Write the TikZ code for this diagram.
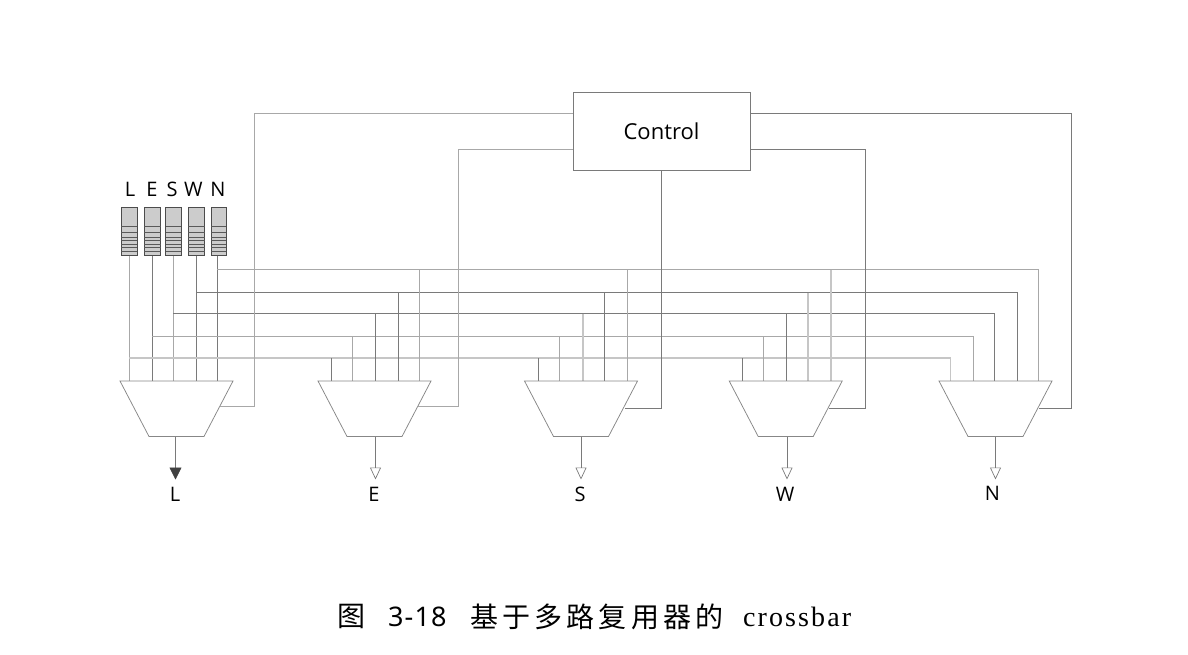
\documentclass[tikz,border=0pt]{standalone}
\usepackage{fontspec}
\usetikzlibrary{arrows.meta}
\setmainfont{Open Sans}
\newfontfamily\cjk[LetterSpace=15]{Noto Sans CJK SC}
\newfontfamily\capnum[LetterSpace=4]{Noto Sans}
\newfontfamily\caplat[LetterSpace=7.5]{Liberation Serif}
\definecolor{wirec}{gray}{0.48}
\definecolor{lightwire}{gray}{0.66}
\definecolor{qfill}{gray}{0.80}
\tikzset{
  x=1pt,y=-1pt,
  wire/.style={draw=wirec,line width=0.75pt},
  lwire/.style={draw=lightwire,line width=0.8pt},
  paleW/.style={draw=gray!45,line width=1.2pt},
  muxanchor/.style={minimum width=113pt,minimum height=55.5pt,inner sep=0pt,outer sep=0pt},
  muxline/.style={draw=lightwire!80!black,line width=0.75pt,fill=white},
  qbox/.style={draw=black!70,line width=0.8pt,fill=qfill,minimum height=48.4pt,inner sep=0pt,outer sep=0pt,anchor=north},
  ctrl/.style={draw=wirec,line width=0.75pt,fill=white,minimum width=177pt,minimum height=78pt,inner sep=0pt,outer sep=0pt,font=\fontsize{22}{24}\selectfont},
  lab/.style={font=\fontsize{20}{22}\selectfont,inner sep=0pt},
  tipopen/.style={-{Triangle[open,length=12pt,width=11pt,line width=0.7pt]}},
  tipfull/.style={-{Triangle[length=12pt,width=12pt,fill=black!75,color=black!75]}},
}
\begin{document}
\begin{tikzpicture}
\useasboundingbox (0,0) rectangle (1188,654);
% control
\node[ctrl] (ctl) at (661.5,131) {Control};
% queues
\foreach \n/\cx/\w in {L/129.3/16,E/152.3/16.5,S/173.3/15.5,W/196.3/16.5,N/218.5/15}{
  \node[qbox,minimum width=\w pt] (q\n) at (\cx,207.4) {};
  \foreach \yy in {226.7,232.3,237,240.7,244,247.3,251.3}{
    \draw[draw=black!65,line width=0.7pt] (q\n.west |- 0,\yy) -- (q\n.east |- 0,\yy);
  }
}
% queue labels
\node[lab] (tL) at (130,189) {L};
\node[lab] (tE) at (152,189) {E};
\node[lab] (tS) at (172,189) {S};
\node[lab] (tW) at (193.5,189) {W};
\node[lab] (tN) at (218,189) {N};
% ports on top of each mux
\foreach \m/\a/\b/\c/\d/\e in {L/129.3/152.3/173.3/196.3/217.3,E/331/352.5/375.5/398/419.5,S/538.5/559.5/583/604/627.5,W/742.5/763.5/786.5/808/831,N/950.5/973.5/994.5/1017.5/1038.5}{
  \coordinate (p\m L) at (\a,381);
  \coordinate (p\m E) at (\b,381);
  \coordinate (p\m S) at (\c,381);
  \coordinate (p\m W) at (\d,381);
  \coordinate (p\m N) at (\e,381);
}
% input buses
\draw[lwire] (qL.south) -- (pLL);
\draw[wire] (qE.south) -- (pLE);
\draw[lwire] (qS.south) -- (pLS);
\draw[wire] (qW.south) -- (pLW);
\draw[wire] (qN.south -| pLN) -- (pLN);
\draw[paleW] (pLL |- 0,358) -- (pNL |- 0,358) -- (pNL);
\draw[lwire] (pLE |- 0,336.5) -- (pNE |- 0,336.5) -- (pNE);
\draw[wire] (pLS |- 0,313.5) -- (pNS |- 0,313.5) -- (pNS);
\draw[wire] (pLW |- 0,292.5) -- (pNW |- 0,292.5) -- (pNW);
\draw[lwire] (pLN |- 0,269.5) -- (pNN |- 0,269.5) -- (pNN);
\foreach \m in {E,S,W}{
  \draw[wire] (p\m L |- 0,358) -- (p\m L);
  \draw[lwire] (p\m E |- 0,336.5) -- (p\m E);
  \draw[wire] (p\m S |- 0,313.5) -- (p\m S);
  \draw[wire] (p\m W |- 0,292.5) -- (p\m W);
  \draw[lwire] (p\m N |- 0,269.5) -- (p\m N);
}
\draw[paleW] (pSS |- 0,313.5) -- (pSS);
\draw[paleW] (pWW |- 0,292.5) -- (pWW);
\draw[paleW] (pWN |- 0,269.5) -- (pWN);
% muxes
\foreach \m/\cx in {L/176.5,E/374.5,S/581,W/785.7,N/995.5}{
  \node[muxanchor] (m\m) at (\cx,408.75) {};
  \draw[muxline] (m\m.north west) -- (m\m.north east) -- ([xshift=-29pt]m\m.south east) -- ([xshift=29pt]m\m.south west) -- cycle;
}
% control wires
\coordinate (cL) at (254.5,113);
\coordinate (cE) at (458,149);
\coordinate (cW) at (865,149);
\coordinate (cN) at (1071.5,113);
\coordinate (eL) at (220,406);
\coordinate (eE) at (418,406);
\coordinate (eS) at (624.5,408);
\coordinate (eW) at (829,408);
\coordinate (eN) at (1039,408);
\draw[lwire] (ctl.west |- cL) -- (cL) |- (eL);
\draw[lwire] (ctl.west |- cE) -- (cE) |- (eE);
\draw[wire] (ctl.south) -- (ctl.south |- eS) -- (eS);
\draw[wire] (ctl.east |- cW) -- (cW) |- (eW);
\draw[wire] (ctl.east |- cN) -- (cN) |- (eN);
% outputs
\coordinate (oL) at (175.5,479.5);
\coordinate (oE) at (375.5,479.5);
\coordinate (oS) at (581,479.5);
\coordinate (oW) at (787,479.5);
\coordinate (oN) at (995.5,479.5);
\draw[wire,tipfull] (mL.south -| oL) -- (oL);
\draw[wire,tipopen] (mE.south -| oE) -- (oE);
\draw[wire,tipopen] (mS.south -| oS) -- (oS);
\draw[wire,tipopen] (mW.south -| oW) -- (oW);
\draw[wire,tipopen] (mN.south -| oN) -- (oN);
\node[lab] (bL) at (175,494.5) {L};
\node[lab] (bE) at (374,494.5) {E};
\node[lab] (bS) at (580,494.5) {S};
\node[lab] (bW) at (785,494.5) {W};
\node[lab] (bN) at (992.5,493.5) {N};
% caption
\node[inner sep=0pt,anchor=west] (c1) at (337,616.5) {\fontsize{28}{30}\selectfont\cjk 图};
\node[inner sep=0pt,anchor=west] (c2) at (388,616.5) {\fontsize{27}{30}\selectfont\capnum 3-18};
\node[inner sep=0pt,anchor=west] (c3) at (470,616.5) {\fontsize{28}{30}\selectfont\cjk 基于多路复用器的};
\node[inner sep=0pt,anchor=west] (c4) at (743,616.5) {\fontsize{28}{30}\selectfont\caplat crossbar};
\end{tikzpicture}
\end{document}
